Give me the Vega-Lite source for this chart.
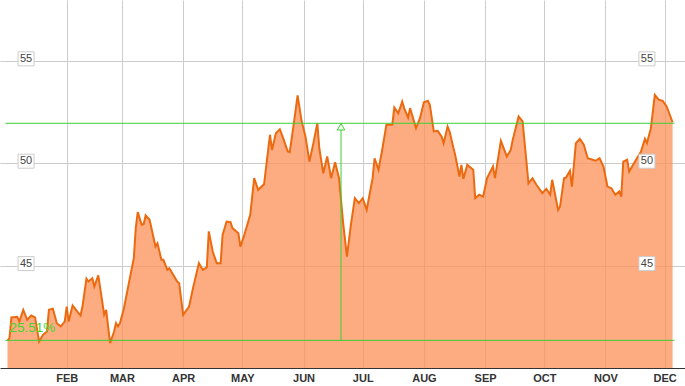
{
  "$schema": "https://vega.github.io/schema/vega-lite/v6.json",
  "width": 685,
  "height": 368,
  "autosize": {"type": "none"},
  "padding": {"left": 0, "top": 0, "right": 0, "bottom": 18},
  "background": "#ffffff",
  "config": {"view": {"stroke": null}, "font": "Liberation Sans"},
  "datasets": {
    "price": [
      {"date":"2013/01/02","v":41.34},{"date":"2013/01/03","v":41.46},{"date":"2013/01/04","v":42.47},{"date":"2013/01/07","v":42.50},
      {"date":"2013/01/08","v":42.27},{"date":"2013/01/10","v":42.84},{"date":"2013/01/12","v":42.35},{"date":"2013/01/14","v":42.56},
      {"date":"2013/01/16","v":42.47},{"date":"2013/01/18","v":41.29},{"date":"2013/01/20","v":41.62},{"date":"2013/01/22","v":41.78},
      {"date":"2013/01/23","v":42.84},{"date":"2013/01/25","v":42.89},{"date":"2013/01/27","v":42.19},{"date":"2013/01/29","v":42.03},
      {"date":"2013/01/31","v":42.27},{"date":"2013/02/01","v":43.00},{"date":"2013/02/02","v":42.27},{"date":"2013/02/04","v":43.05},
      {"date":"2013/02/08","v":42.56},{"date":"2013/02/09","v":43.00},{"date":"2013/02/11","v":44.36},{"date":"2013/02/12","v":44.22},
      {"date":"2013/02/14","v":44.38},{"date":"2013/02/15","v":43.98},{"date":"2013/02/17","v":44.52},{"date":"2013/02/19","v":43.25},
      {"date":"2013/02/20","v":42.60},{"date":"2013/02/21","v":42.84},{"date":"2013/02/23","v":41.21},{"date":"2013/02/25","v":41.78},
      {"date":"2013/02/26","v":42.19},{"date":"2013/02/27","v":42.03},{"date":"2013/02/28","v":42.19},{"date":"2013/03/02","v":42.92},
      {"date":"2013/03/05","v":44.38},{"date":"2013/03/07","v":45.36},{"date":"2013/03/08","v":46.83},{"date":"2013/03/09","v":47.61},
      {"date":"2013/03/11","v":46.99},{"date":"2013/03/12","v":47.02},{"date":"2013/03/13","v":47.45},{"date":"2013/03/15","v":47.24},
      {"date":"2013/03/18","v":45.93},{"date":"2013/03/19","v":46.09},{"date":"2013/03/21","v":45.28},{"date":"2013/03/22","v":45.28},
      {"date":"2013/03/24","v":44.79},{"date":"2013/03/25","v":44.87},{"date":"2013/03/29","v":44.22},{"date":"2013/03/30","v":44.14},
      {"date":"2013/04/01","v":42.60},{"date":"2013/04/04","v":43.00},{"date":"2013/04/06","v":43.90},{"date":"2013/04/09","v":45.12},
      {"date":"2013/04/11","v":44.79},{"date":"2013/04/13","v":44.91},{"date":"2013/04/14","v":46.67},{"date":"2013/04/16","v":45.69},
      {"date":"2013/04/18","v":45.12},{"date":"2013/04/20","v":45.12},{"date":"2013/04/21","v":46.50},{"date":"2013/04/23","v":47.15},
      {"date":"2013/04/25","v":47.12},{"date":"2013/04/26","v":46.83},{"date":"2013/04/29","v":46.58},{"date":"2013/04/30","v":45.93},
      {"date":"2013/05/02","v":46.50},{"date":"2013/05/05","v":47.48},{"date":"2013/05/07","v":49.27},{"date":"2013/05/09","v":48.70},
      {"date":"2013/05/12","v":48.97},{"date":"2013/05/15","v":51.39},{"date":"2013/05/16","v":50.65},{"date":"2013/05/18","v":51.46},
      {"date":"2013/05/20","v":51.66},{"date":"2013/05/22","v":51.14},{"date":"2013/05/24","v":50.57},{"date":"2013/05/25","v":50.54},
      {"date":"2013/05/27","v":51.88},{"date":"2013/05/29","v":53.31},{"date":"2013/05/31","v":52.07},{"date":"2013/06/02","v":51.30},
      {"date":"2013/06/04","v":50.08},{"date":"2013/06/06","v":50.98},{"date":"2013/06/08","v":51.95},{"date":"2013/06/09","v":50.73},
      {"date":"2013/06/11","v":49.51},{"date":"2013/06/13","v":50.33},{"date":"2013/06/15","v":49.27},{"date":"2013/06/17","v":50.05},
      {"date":"2013/06/19","v":49.27},{"date":"2013/06/21","v":47.15},{"date":"2013/06/23","v":45.44},{"date":"2013/06/25","v":46.99},
      {"date":"2013/06/27","v":48.29},{"date":"2013/06/29","v":48.05},{"date":"2013/07/01","v":48.29},{"date":"2013/07/03","v":47.72},
      {"date":"2013/07/06","v":49.27},{"date":"2013/07/07","v":50.24},{"date":"2013/07/09","v":49.68},{"date":"2013/07/11","v":50.73},
      {"date":"2013/07/13","v":51.88},{"date":"2013/07/16","v":51.88},{"date":"2013/07/17","v":52.72},{"date":"2013/07/19","v":52.44},
      {"date":"2013/07/21","v":53.01},{"date":"2013/07/22","v":52.69},{"date":"2013/07/24","v":52.23},{"date":"2013/07/25","v":52.69},
      {"date":"2013/07/28","v":51.71},{"date":"2013/07/30","v":52.20},{"date":"2013/08/01","v":52.98},{"date":"2013/08/03","v":53.05},
      {"date":"2013/08/04","v":52.85},{"date":"2013/08/06","v":51.55},{"date":"2013/08/08","v":51.58},{"date":"2013/08/10","v":51.30},
      {"date":"2013/08/11","v":50.98},{"date":"2013/08/13","v":51.79},{"date":"2013/08/14","v":51.55},{"date":"2013/08/16","v":50.73},
      {"date":"2013/08/17","v":50.33},{"date":"2013/08/19","v":49.35},{"date":"2013/08/20","v":49.92},{"date":"2013/08/21","v":49.24},
      {"date":"2013/08/23","v":49.92},{"date":"2013/08/24","v":49.84},{"date":"2013/08/26","v":49.68},{"date":"2013/08/27","v":48.29},
      {"date":"2013/08/29","v":48.46},{"date":"2013/08/31","v":48.37},{"date":"2013/09/02","v":49.27},{"date":"2013/09/05","v":49.84},
      {"date":"2013/09/06","v":49.27},{"date":"2013/09/09","v":51.09},{"date":"2013/09/12","v":50.33},{"date":"2013/09/14","v":50.65},
      {"date":"2013/09/15","v":51.14},{"date":"2013/09/18","v":52.28},{"date":"2013/09/20","v":52.04},{"date":"2013/09/23","v":49.02},
      {"date":"2013/09/25","v":49.27},{"date":"2013/09/27","v":48.95},{"date":"2013/09/30","v":48.54},{"date":"2013/10/02","v":48.75},
      {"date":"2013/10/04","v":48.46},{"date":"2013/10/05","v":49.19},{"date":"2013/10/08","v":47.72},{"date":"2013/10/09","v":47.89},
      {"date":"2013/10/11","v":49.27},{"date":"2013/10/12","v":49.30},{"date":"2013/10/14","v":49.63},{"date":"2013/10/15","v":48.86},
      {"date":"2013/10/17","v":50.98},{"date":"2013/10/19","v":51.19},{"date":"2013/10/21","v":50.90},{"date":"2013/10/23","v":50.24},
      {"date":"2013/10/27","v":50.12},{"date":"2013/10/29","v":50.24},{"date":"2013/10/31","v":49.84},{"date":"2013/11/02","v":48.86},
      {"date":"2013/11/04","v":48.78},{"date":"2013/11/06","v":48.46},{"date":"2013/11/08","v":48.62},{"date":"2013/11/09","v":48.37},
      {"date":"2013/11/10","v":50.08},{"date":"2013/11/12","v":50.17},{"date":"2013/11/13","v":49.59},{"date":"2013/11/15","v":49.92},
      {"date":"2013/11/19","v":50.57},{"date":"2013/11/21","v":51.19},{"date":"2013/11/22","v":50.98},{"date":"2013/11/24","v":51.71},
      {"date":"2013/11/26","v":53.33},{"date":"2013/11/28","v":53.10},{"date":"2013/11/30","v":53.04},{"date":"2013/12/02","v":52.77},
      {"date":"2013/12/05","v":52.00}
    ],
    "levels": [{"v":45},{"v":50},{"v":55}],
    "change": [{"date":"2013/06/20","from":41.35,"to":51.95,"label":"25.51%"}]
  },
  "layer": [
    {
      "data": {"name": "price"},
      "mark": {"type": "area", "color": "#FC935B", "fillOpacity": 0.77, "clip": true},
      "encoding": {
        "x": {
          "field": "date", "type": "temporal",
          "scale": {"domain": [{"year":2012,"month":12,"date":29,"hours":5},{"year":2013,"month":12,"date":11,"hours":7}]},
          "axis": {
            "title": null,
            "values": [{"year":2013,"month":2,"date":1},{"year":2013,"month":3,"date":1},{"year":2013,"month":4,"date":1},{"year":2013,"month":5,"date":1},{"year":2013,"month":6,"date":1},{"year":2013,"month":7,"date":1},{"year":2013,"month":8,"date":1},{"year":2013,"month":9,"date":1},{"year":2013,"month":10,"date":1},{"year":2013,"month":11,"date":1},{"year":2013,"month":12,"date":1}],
            "labelExpr": "upper(timeFormat(datum.value, '%b'))",
            "grid": true, "gridColor": "#cccccc", "gridWidth": 1,
            "ticks": false,
            "domain": true, "domainColor": "#333333", "domainWidth": 1,
            "labelFont": "Liberation Sans", "labelFontWeight": "bold", "labelFontSize": 11,
            "labelColor": "#333333", "labelPadding": 4, "labelFlush": false
          }
        },
        "y": {
          "field": "v", "type": "quantitative",
          "scale": {"domain": [40, 57.97], "zero": false, "nice": false},
          "axis": {
            "title": null, "values": [45, 50, 55], "labels": false, "ticks": false,
            "domain": false, "grid": true, "gridColor": "#cccccc", "gridWidth": 1
          }
        },
        "y2": {"datum": 40}
      }
    },
    {
      "data": {"name": "price"},
      "mark": {"type": "line", "color": "#EB6A10", "strokeWidth": 2, "clip": true},
      "encoding": {
        "x": {"field": "date", "type": "temporal"},
        "y": {"field": "v", "type": "quantitative"}
      }
    },
    {
      "data": {"name": "change"},
      "mark": {"type": "rule", "color": "#3DCF35", "strokeWidth": 1},
      "encoding": {
        "x": {"datum": {"year":2013,"month":1,"date":1}, "type": "temporal"},
        "x2": {"datum": {"year":2013,"month":12,"date":6}},
        "y": {"field": "from", "type": "quantitative"}
      }
    },
    {
      "data": {"name": "change"},
      "mark": {"type": "rule", "color": "#3DCF35", "strokeWidth": 1},
      "encoding": {
        "x": {"datum": {"year":2013,"month":1,"date":1}, "type": "temporal"},
        "x2": {"datum": {"year":2013,"month":12,"date":6}},
        "y": {"field": "to", "type": "quantitative"}
      }
    },
    {
      "data": {"name": "change"},
      "mark": {"type": "rule", "color": "#3DCF35", "strokeWidth": 1},
      "encoding": {
        "x": {"field": "date", "type": "temporal"},
        "y": {"field": "from", "type": "quantitative"},
        "y2": {"field": "to"}
      }
    },
    {
      "data": {"name": "change"},
      "mark": {"type": "point", "shape": "triangle-up", "size": 55, "filled": true, "fill": "#ffffff", "stroke": "#3DCF35", "strokeWidth": 1, "opacity": 1, "yOffset": 3.5},
      "encoding": {
        "x": {"field": "date", "type": "temporal"},
        "y": {"field": "to", "type": "quantitative"}
      }
    },
    {
      "data": {"name": "change"},
      "mark": {"type": "text", "color": "#3FD62F", "fontSize": 13.5, "font": "Liberation Sans", "align": "left", "baseline": "alphabetic", "yOffset": -8},
      "encoding": {
        "x": {"datum": {"year":2013,"month":1,"date":3}, "type": "temporal"},
        "y": {"field": "from", "type": "quantitative"},
        "text": {"field": "label"}
      }
    },
    {
      "data": {"name": "levels"},
      "mark": {"type": "rect", "width": 16, "height": 14, "fill": "#ffffff", "stroke": "#cccccc", "strokeWidth": 1, "yOffset": -2},
      "encoding": {
        "x": {"datum": {"year":2013,"month":1,"date":11,"hours":10}, "type": "temporal"},
        "y": {"field": "v", "type": "quantitative"}
      }
    },
    {
      "data": {"name": "levels"},
      "mark": {"type": "text", "color": "#444444", "fontSize": 11, "font": "Liberation Sans", "align": "center", "baseline": "middle", "yOffset": -2},
      "encoding": {
        "x": {"datum": {"year":2013,"month":1,"date":11,"hours":10}, "type": "temporal"},
        "y": {"field": "v", "type": "quantitative"},
        "text": {"field": "v"}
      }
    },
    {
      "data": {"name": "levels"},
      "mark": {"type": "rect", "width": 16, "height": 14, "fill": "#ffffff", "stroke": "#cccccc", "strokeWidth": 1, "yOffset": -2},
      "encoding": {
        "x": {"datum": {"year":2013,"month":11,"date":22}, "type": "temporal"},
        "y": {"field": "v", "type": "quantitative"}
      }
    },
    {
      "data": {"name": "levels"},
      "mark": {"type": "text", "color": "#444444", "fontSize": 11, "font": "Liberation Sans", "align": "center", "baseline": "middle", "yOffset": -2},
      "encoding": {
        "x": {"datum": {"year":2013,"month":11,"date":22}, "type": "temporal"},
        "y": {"field": "v", "type": "quantitative"},
        "text": {"field": "v"}
      }
    }
  ]
}
